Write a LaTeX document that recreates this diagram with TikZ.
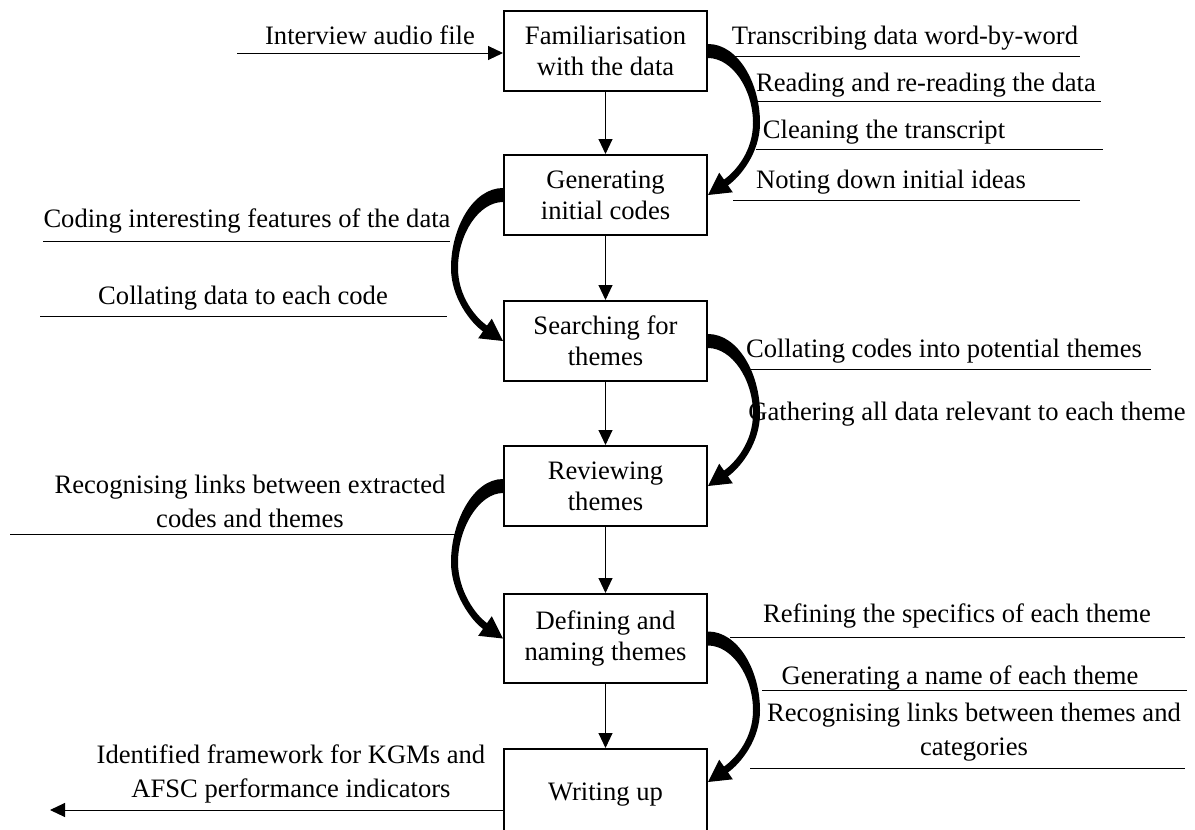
\documentclass[tikz,border=0pt]{standalone}
\usepackage{fontspec}
\setmainfont{Liberation Serif}
\usepackage{tikz}
\usetikzlibrary{positioning}
\usetikzlibrary{calc,arrows.meta}
\tikzset{
  stage/.style = {draw=black, line width=1pt, align=center,
    minimum width=101.5pt, minimum height=40pt, inner sep=2pt,
    font=\fontsize{13.3pt}{15.5pt}\selectfont},% a step of the analysis
  tag/.style = {anchor=base, inner sep=0pt, align=center,
    font=\fontsize{13.3pt}{17pt}\selectfont},% text over a rule
  rule/.style = {line width=0.5pt},
  flow/.style = {line width=0.5pt, -{Triangle[length=7.5pt,width=7pt]}}
}
% thick bent arrow beside the boxes, #3 = 1 right side, -1 left side
\newcommand{\bendarrow}[3]{%
  \fill ($(#1)+(0,-7)$)
    .. controls ($(#1)+(#3*30,-7)$) and ($(#1)!0.5!(#2)+(#3*52,-40)$)
    .. ($(#1)!0.5!(#2)+(#3*52,0)$)
    .. controls ($(#1)!0.5!(#2)+(#3*52,30)$) and ($(#2)+(#3*32,-18)$)
    .. ($(#2)+(#3*20,-9.6)$)
    -- ($(#2)+(#3*24.8,-2.7)$) -- (#2) -- ($(#2)+(#3*11.2,-22.3)$)
    -- ($(#2)+(#3*16,-15.4)$)
    .. controls ($(#2)+(#3*28,-24)$) and ($(#1)!0.5!(#2)+(#3*45,28)$)
    .. ($(#1)!0.5!(#2)+(#3*45,0)$)
    .. controls ($(#1)!0.5!(#2)+(#3*45,-34)$) and ($(#1)+(#3*24,7)$)
    .. ($(#1)+(0,7)$) -- cycle;}

\begin{document}
\begin{tikzpicture}[x=0.5pt,y=-0.5pt]
\useasboundingbox (0,0) rectangle (1195,830);
\clip (0,0) rectangle (1195,830);

% the six steps
\node[stage] (fam) at (605.5,51) {Familiarisation\\with the data};
\node[stage, below=31pt of fam] (gen) {Generating\\initial codes};
\node[stage, below=32pt of gen] (search) {Searching for\\themes};
\node[stage, below=31.5pt of search] (review) {Reviewing\\themes};
\node[stage, below=33pt of review, minimum height=44.5pt] (define) {Defining and\\naming themes};
\node[stage, below=32pt of define, minimum height=46pt] (write) {Writing up};

\draw[flow] (fam) -- (gen);
\draw[flow] (gen) -- (search);
\draw[flow] (search) -- (review);
\draw[flow] (review) -- (define);
\draw[flow] (define) -- (write);

% input and output
\coordinate (src) at (237,53);
\draw[flow] (src) -- (src -| fam.west);
\node[tag] (audio) at (370,44) {Interview audio file};
\coordinate (sink) at (50,810);
\draw[flow] (write.west |- sink) -- (sink);
\node[tag] (frame) at (291,797) {Identified framework for KGMs and\\AFSC performance indicators};

% bent arrows
\coordinate (writein) at ($(write.north east)+(0,34)$);
\bendarrow{fam.east}{gen.east}{1}
\bendarrow{gen.west}{search.west}{-1}
\bendarrow{search.east}{review.east}{1}
\bendarrow{review.west}{define.west}{-1}
\bendarrow{define.east}{writein}{1}

% familiarisation
\node[tag] (transc) at (905,45) {Transcribing data word-by-word};
\draw[rule] (733,56) -- (1080,56);
\node[tag] (reread) at (926,91) {Reading and re-reading the data};
\draw[rule] (756,101) -- (1101,101);
\node[tag] (clean) at (884,138) {Cleaning the transcript};
\draw[rule] (756,149) -- (1103,149);
\node[tag] (ideas) at (891,188) {Noting down initial ideas};
\draw[rule] (733,200) -- (1080,200);

% coding
\node[tag] (feat) at (247,227) {Coding interesting features of the data};
\draw[rule] (43,241) -- (450,241);
\node[tag] (collate) at (243,304) {Collating data to each code};
\draw[rule] (40,316) -- (447,316);

% searching
\node[tag] (potent) at (944,357) {Collating codes into potential themes};
\draw[rule] (747,369) -- (1151,369);
\node[tag] (gather) at (967,420) {Gathering all data relevant to each theme};

% reviewing
\node[tag] (links) at (250,527) {Recognising links between extracted\\codes and themes};
\draw[rule] (10,534) -- (455,534);

% defining
\node[tag] (refine) at (957,622) {Refining the specifics of each theme};
\draw[rule] (730,637) -- (1185,637);
\node[tag] (naming) at (960,684) {Generating a name of each theme};
\draw[rule] (762,690) -- (1187,690);
\node[tag] (categ) at (974,755) {Recognising links between themes and\\categories};
\draw[rule] (750,768) -- (1185,768);
\end{tikzpicture}
\end{document}
